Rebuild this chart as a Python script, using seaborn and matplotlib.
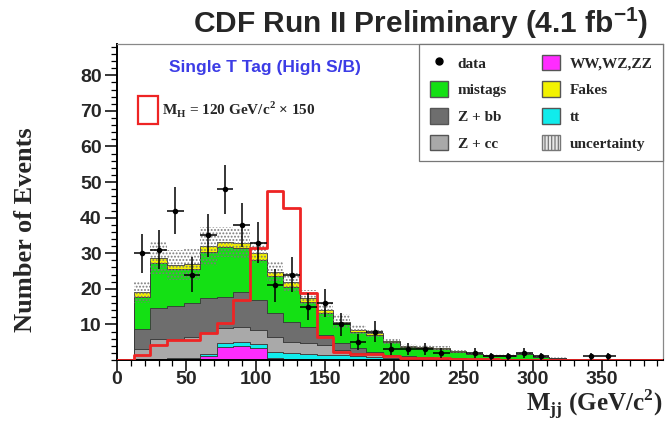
import numpy as np
import pandas as pd
import matplotlib
matplotlib.use("Agg")
import matplotlib.pyplot as plt
import seaborn as sns
from matplotlib.patches import Patch
from matplotlib.lines import Line2D
from matplotlib.ticker import MultipleLocator
from matplotlib.font_manager import FontProperties

# ---------------- data (bins of 12 GeV/c^2 starting at 0) ----------------
bin_width = 12
n_bins = 33

ww = [0, 0, 0, 0.1, 0.2, 1.0, 3.6, 3.9, 3.3, 0.5, 0.3, 0.2, 0.1, 0.1, 0.05, 0, 0,
      0, 0, 0, 0, 0, 0, 0, 0, 0, 0, 0, 0, 0, 0, 0, 0]
ttbar = [0, 0.2, 0.3, 0.4, 0.5, 0.6, 1.2, 1.2, 1.2, 1.8, 1.6, 1.5, 1.4, 1.2, 1.0, 0.8, 0.5,
         0.3, 0.2, 0.2, 0.1, 0.1, 0.05, 0.05, 0.05, 0, 0, 0, 0, 0, 0, 0, 0]
zcc = [0, 2.8, 5.7, 5.5, 5.9, 5.9, 4.2, 4.3, 3.9, 4.3, 3.1, 3.0, 2.6, 1.5, 1.0, 0.8, 0.5,
       0.3, 0.3, 0.2, 0.2, 0.1, 0.1, 0.1, 0.1, 0.05, 0, 0, 0, 0, 0, 0, 0]
zbb = [0, 5.7, 8.5, 9.3, 9.3, 9.8, 8.8, 9.8, 8.6, 6.6, 5.8, 4.5, 3.0, 1.9, 1.2, 0.7, 0.5,
       0.4, 0.3, 0.3, 0.2, 0.2, 0.1, 0.1, 0.1, 0.05, 0.05, 0, 0, 0, 0, 0, 0]
mistags = [0, 9.1, 12.7, 10.4, 9.7, 13.1, 14.0, 12.2, 11.0, 10.3, 9.7, 7.0, 6.1, 5.6, 4.7, 4.7, 3.6,
           2.6, 2.7, 2.4, 1.8, 1.3, 1.0, 1.0, 1.3, 0.8, 0.6, 0, 0, 0, 0, 0, 0]
fakes = [0, 1.2, 1.4, 1.0, 1.3, 1.6, 1.4, 1.4, 2.2, 1.3, 1.5, 1.1, 0.9, 0.5, 0.6, 0.5, 0.3,
         0.2, 0.2, 0.2, 0.1, 0.1, 0.1, 0.1, 0.1, 0.05, 0.05, 0, 0, 0, 0, 0, 0]
uncert = [0, 3.0, 4.5, 4.2, 4.5, 5.5, 4.3, 4.2, 3.0, 2.7, 2.5, 2.5, 2.0, 2.0, 1.2, 1.0, 0.8,
          0.6, 0.5, 0.5, 0.4, 0.3, 0.3, 0.3, 0.3, 0.2, 0.2, 0, 0, 0, 0, 0, 0]
signal = [0, 1.4, 4.2, 5.6, 5.6, 7.7, 10.5, 17.0, 31.4, 47.6, 42.6, 18.7, 6.6, 2.3, 1.7, 1.7, 1.1,
          0.7, 0.6, 0.5, 0.4, 0.3, 0.2, 0.1, 0.1, 0, 0, 0, 0, 0, 0, 0, 0]
data = [0, 30, 31, 42, 24, 35, 48, 38, 33, 21, 24, 15, 16, 10, 5, 8, 3,
        3, 3, 2, 0, 2, 1, 1, 2, 1, 0, 0, 1, 1, 0, 0, 0]

x_ticks = [0, 50, 100, 150, 200, 250, 300, 350]
y_ticks = [10, 20, 30, 40, 50, 60, 70, 80]

components = {"Fakes": fakes, "mistags": mistags, "Z + bb": zbb,
              "Z + cc": zcc, "tt": ttbar, "WW,WZ,ZZ": ww}
palette = {"Fakes": "#f2f200", "mistags": "#14e014", "Z + bb": "#6e6e6e",
           "Z + cc": "#a9a9a9", "tt": "#10ecec", "WW,WZ,ZZ": "#ff2cff"}
red = "#ee2424"

edges = np.arange(0, bin_width * (n_bins + 1), bin_width)
centers = edges[:-1] + bin_width / 2
bin_list = [float(e) for e in edges]

rows = []
for name, vals in components.items():
    for c, v in zip(centers, vals):
        rows.append((float(c), float(v), name))
df = pd.DataFrame(rows, columns=["mjj", "events", "process"])
sig_df = pd.DataFrame({"mjj": centers, "events": signal})

# ---------------- figure ----------------
sns.set_theme(style="ticks")
plt.rcParams["mathtext.fontset"] = "custom"
plt.rcParams["mathtext.rm"] = "Liberation Serif:bold"
plt.rcParams["mathtext.bf"] = "Liberation Serif:bold"
plt.rcParams["mathtext.sf"] = "Liberation Sans:bold"
plt.rcParams["hatch.color"] = "#7a7a7a"
plt.rcParams["hatch.linewidth"] = 0.9

fig = plt.figure(figsize=(6.67, 4.24), dpi=100)
ax = fig.add_axes([117 / 667, 64 / 424, 546 / 667, 316 / 424])

sns.histplot(data=df, x="mjj", weights="events", hue="process",
             hue_order=list(components.keys()), palette=palette,
             multiple="stack", bins=bin_list, element="step", alpha=1,
             linewidth=0.6, edgecolor="#3a3a3a", legend=False, ax=ax)

total = np.sum([np.array(v) for v in components.values()], axis=0)
unc = np.array(uncert)
ax.stairs(total + unc, edges, baseline=np.clip(total - unc, 0, None), fill=True,
          facecolor="none", edgecolor="#7a7a7a", hatch=".....", linewidth=0, zorder=3)

sns.histplot(data=sig_df, x="mjj", weights="events", bins=bin_list, element="step",
             fill=False, color=red, linewidth=2.0, ax=ax, zorder=4)

d = np.array(data, dtype=float)
m = d > 0
ax.errorbar(centers[m], d[m], yerr=np.sqrt(d[m]), xerr=bin_width / 2, fmt="none",
            ecolor="black", elinewidth=1.1, capsize=0, zorder=5)
sns.scatterplot(x=centers[m], y=d[m], color="black", s=16, linewidth=0, ax=ax, zorder=6)

ax.set_xlim(0, 394)
ax.set_ylim(0, 88.8)
ax.set_xticks(x_ticks)
ax.set_yticks(y_ticks)
ax.xaxis.set_minor_locator(MultipleLocator(10))
ax.yaxis.set_minor_locator(MultipleLocator(2))
ax.set_xlabel("")
ax.set_ylabel("")
tick_font = FontProperties(family="Liberation Sans", weight="bold", size=14)
for lab in ax.get_xticklabels() + ax.get_yticklabels():
    lab.set_fontproperties(tick_font)
ax.tick_params(which="major", direction="out", length=9, width=1.1, color="black", pad=2)
ax.tick_params(which="minor", direction="out", length=4.5, width=0.9, color="black")
ax.tick_params(axis="x", which="major", length=8, pad=0)
for s in ["left", "bottom"]:
    ax.spines[s].set_color("black")
    ax.spines[s].set_linewidth(1.4)
for s in ["top", "right"]:
    ax.spines[s].set_color("#888888")
    ax.spines[s].set_linewidth(0.9)

# texts
fig.text(648 / 667, 1 - 23 / 424, r"CDF Run II Preliminary (4.1 fb$^{\mathsf{-1}}$)",
         ha="right", va="center", fontsize=21.5, family="Liberation Sans", weight="bold")
fig.text(26 / 667, 1 - 230 / 424, "Number of Events", rotation=90, ha="center", va="center",
         fontsize=19, family="Liberation Serif", weight="bold")
fig.text(662 / 667, 2 / 424, r"M$_{\mathrm{jj}}$ (GeV/c$^{\mathrm{2}}$)", ha="right",
         va="bottom", fontsize=18, family="Liberation Serif", weight="bold")
ax.text((265 - 117) / 546, (360 - 67) / 316, "Single T Tag (High S/B)", transform=ax.transAxes,
        ha="center", va="center", fontsize=12.5, family="Liberation Sans", weight="bold",
        color="#3c3ce6")

leg_font = FontProperties(family="Liberation Serif", weight="bold", size=11)
handles = [Line2D([], [], marker="o", color="black", linestyle="none", markersize=5),
           Patch(facecolor=palette["mistags"], edgecolor="#555555"),
           Patch(facecolor=palette["Z + bb"], edgecolor="#555555"),
           Patch(facecolor=palette["Z + cc"], edgecolor="#555555"),
           Patch(facecolor=palette["WW,WZ,ZZ"], edgecolor="#555555"),
           Patch(facecolor=palette["Fakes"], edgecolor="#555555"),
           Patch(facecolor=palette["tt"], edgecolor="#555555"),
           Patch(facecolor="#e8e8e8", edgecolor="#777777", hatch="|||||")]
labels = ["data", "mistags", "Z + bb", "Z + cc", "WW,WZ,ZZ", "Fakes", "tt", "uncertainty"]
leg = ax.legend(handles, labels, ncol=2, loc="upper right", bbox_to_anchor=(1.0, 1.0),
                borderaxespad=0, prop=leg_font, handlelength=1.2, handleheight=1.2,
                labelspacing=0.7, columnspacing=2.3, handletextpad=0.6, borderpad=0.7,
                frameon=True, fancybox=False, edgecolor="#777777", framealpha=1)
leg.get_frame().set_linewidth(0.9)
ax.add_artist(leg)

sig_handle = Patch(facecolor="none", edgecolor=red, linewidth=1.6)
leg2 = ax.legend([sig_handle], [r"M$_{\mathrm{H}}$ = 120 GeV/c$^{\mathrm{2}}$ × 150"],
                 loc="upper left", bbox_to_anchor=((127 - 117) / 546, (360 - 85) / 316),
                 prop=leg_font, handlelength=1.3, handleheight=2.5, handletextpad=0.3,
                 borderpad=0.2, frameon=False)

fig.savefig("out.png", dpi=100)
